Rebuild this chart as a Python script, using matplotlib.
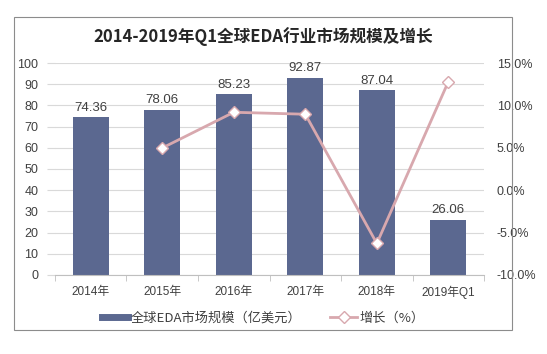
import numpy as np
import matplotlib
matplotlib.use('Agg')
import matplotlib.pyplot as plt
from matplotlib.patches import Rectangle
from matplotlib.lines import Line2D
from matplotlib.ticker import FuncFormatter

plt.rcParams['font.family'] = ['Liberation Sans', 'Noto Sans CJK SC', 'DejaVu Sans']

categories = ['2014年', '2015年', '2016年', '2017年', '2018年', '2019年Q1']
market_size = [74.36, 78.06, 85.23, 92.87, 87.04, 26.06]
growth = [None, 4.98, 9.19, 8.96, -6.28, 12.8]  # percent

bar_color = '#5b6890'
line_color = '#d8a8ae'
text_color = '#404040'

fig = plt.figure(figsize=(5.47, 3.54), dpi=100)
fig.patch.set_facecolor('white')

# outer frame
fig.patches.append(Rectangle((14 / 547, 1 - 330 / 354), (512 - 14) / 547, (330 - 17) / 354,
                             transform=fig.transFigure, fill=False,
                             edgecolor='#8c8c8c', linewidth=0.8))

ax = fig.add_axes([0.1005, 0.2232, 0.7845, 0.5988])
x = np.arange(len(categories))
ax.bar(x, market_size, width=0.5, color=bar_color, zorder=2)
for xi, v in zip(x, market_size):
    ax.text(xi, v + 1.8, '%.2f' % v, ha='center', va='bottom', fontsize=9.5,
            color=text_color)

ax.set_xlim(-0.5, len(categories) - 0.5)
ax.set_ylim(0, 100)
ax.set_yticks(range(0, 101, 10))
ax.yaxis.grid(True, color='#d9d9d9', linewidth=0.8, zorder=0)
ax.set_axisbelow(True)
for s in ['top', 'right', 'left']:
    ax.spines[s].set_visible(False)
ax.spines['bottom'].set_color('#bfbfbf')
ax.set_xticks(x)
ax.set_xticklabels(categories, fontsize=8.5, color=text_color)
ax.set_xticks(np.arange(-0.5, len(categories)), minor=True)
ax.tick_params(axis='x', which='major', length=0, pad=8)
ax.tick_params(axis='x', which='minor', length=4, color='#bfbfbf')
ax.tick_params(axis='y', length=6, color='#d9d9d9', labelsize=9,
               labelcolor=text_color, pad=6)

ax2 = ax.twinx()
gx = [xi for xi, g in zip(x, growth) if g is not None]
gy = [g for g in growth if g is not None]
ax2.plot(gx, gy, color=line_color, linewidth=2, marker='D', markersize=6,
         markerfacecolor='white', markeredgecolor=line_color, markeredgewidth=1,
         zorder=3)
ax2.set_ylim(-10, 15)
ax2.set_yticks(np.arange(-10, 15.1, 5))
ax2.yaxis.set_major_formatter(FuncFormatter(lambda v, p: '%.1f%%' % v))
for s in ['top', 'right', 'left', 'bottom']:
    ax2.spines[s].set_visible(False)
ax2.tick_params(axis='y', length=0, labelsize=9, labelcolor=text_color, pad=9)

fig.text(263 / 547, 1 - 37 / 354, '2014-2019年Q1全球EDA行业市场规模及增长', ha='center',
         va='center', fontsize=12, fontweight='bold', color='#262626',
         family=['Noto Sans CJK SC', 'DejaVu Sans'])

handles = [Line2D([], [], color=bar_color, linewidth=5),
           Line2D([], [], color=line_color, linewidth=2, marker='D', markersize=6,
                  markerfacecolor='white', markeredgecolor=line_color)]
labels = ['全球EDA市场规模（亿美元）', '增长（%）']
fig.legend(handles, labels, loc='center', bbox_to_anchor=(263 / 547, 1 - 318 / 354),
           ncol=2, frameon=False, handlelength=2.0, columnspacing=2.2,
           handletextpad=0.2, labelcolor=text_color,
           prop={'family': ['Noto Sans CJK SC', 'DejaVu Sans'], 'size': 9.5})

fig.savefig('out.png', dpi=100, facecolor='white')
